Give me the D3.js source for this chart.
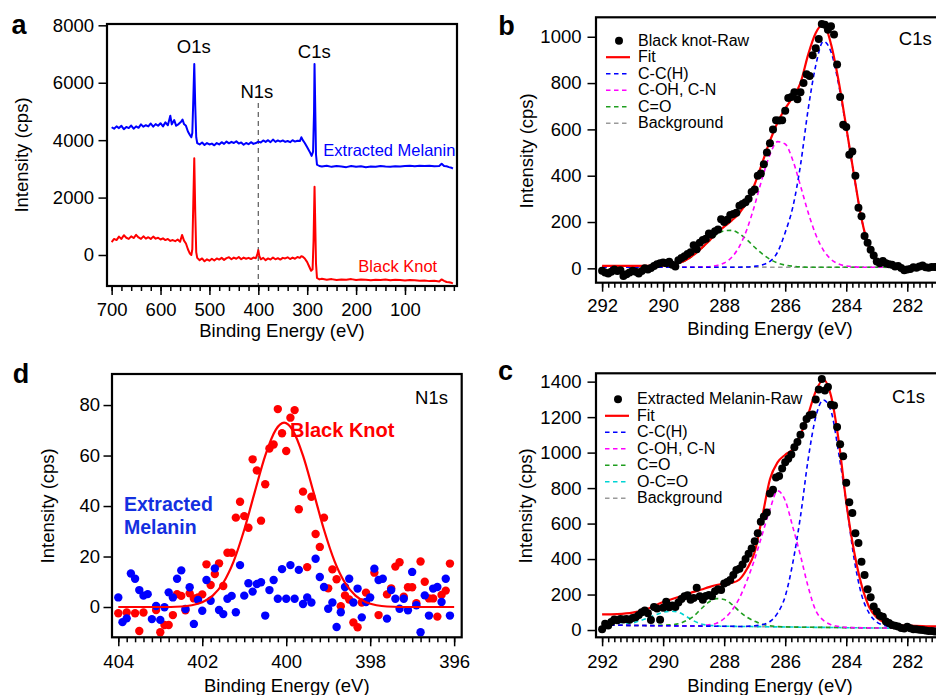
<!DOCTYPE html>
<html>
<head>
<meta charset="utf-8">
<script src="https://cdn.jsdelivr.net/npm/d3@7"></script>
<style>
body { margin: 0; background: #fff; }
svg { display: block; font-family: "Liberation Sans", Arial, Helvetica, sans-serif; }
.tick text { font-size: 18.5px; fill: #000; }
.tick line { stroke: #000; stroke-width: 1.5; }
</style>
</head>
<body>
<svg id="chart" width="936" height="695"></svg>
<script>
// ---- panel a : survey spectra ----
const melaninSurveyE = [700,695,690,685,680,675,670,665,660,655,650,645,640,635,630,625,620,615,610,605,600,595,590,585,580,
  577,572,568,563,558,555,552,548,544,540,537,535,533,531,529,527,525,
  520,515,510,505,500,495,490,485,480,475,470,465,460,455,450,445,440,435,430,425,420,415,410,405,400,395,390,385,380,375,370,365,360,355,350,345,340,335,330,325,320,315,
  312,309,305,300,295,291,288,286,285,284,282,280,275,270,
  260,250,240,230,220,210,200,190,180,170,160,150,140,130,120,110,100,90,80,70,60,50,40,30,
  25,20,15,10,5,2];
const melaninSurvey = [4450,4400,4480,4420,4500,4380,4460,4420,4510,4400,4480,4430,4550,4470,4520,4480,4580,4470,4560,4500,4590,4480,4620,4520,4850,
  4550,4700,4500,4560,4640,4720,4560,4500,4300,4180,4100,4250,5400,6650,5200,4100,3900,
  3850,3920,3830,3900,3850,3880,3820,3900,3850,3930,3870,3950,3890,3940,3900,3960,3880,3920,3840,3900,3860,3930,3870,3900,3950,3920,3990,3940,4000,3930,4020,3940,3990,3950,3990,3940,3970,3930,4000,3950,3980,3970,
  4100,4000,3900,3750,3600,3450,3600,5000,6650,5600,3500,3150,3100,3080,
  3110,3070,3100,3080,3060,3100,3070,3090,3060,3080,3070,3100,3080,3070,3090,3080,3100,3110,3090,3110,3100,3110,3090,3100,
  3180,3100,3090,3060,3040,3010];

const knotSurveyE = [700,695,690,685,680,675,670,665,660,655,650,645,640,635,630,625,620,615,610,605,600,595,590,585,580,575,570,565,560,
  556,552,548,544,540,537,535,533,531,529,527,525,
  520,515,510,505,500,495,490,485,480,475,470,465,460,455,450,445,440,435,430,425,420,415,410,405,
  402,400,398,
  395,390,385,380,375,370,365,360,355,350,345,340,335,330,325,320,315,
  312,309,305,300,296,292,289,287,285,284,282,280,275,270,
  260,250,240,230,220,210,200,190,180,170,160,150,140,130,120,110,100,90,80,70,60,50,40,30,
  25,20,15,10,5,2];
const knotSurvey = [450,560,520,640,560,690,600,560,650,590,700,610,560,650,570,620,560,640,570,600,540,580,520,560,490,520,480,540,460,
  700,500,400,200,50,0,200,1800,3370,1500,100,-100,
  -180,-120,-220,-150,-200,-130,-190,-120,-160,-100,-170,-110,-80,-150,-90,-130,-70,-150,-90,-130,-100,-140,-90,-110,
  20,170,-30,
  -150,-100,-180,-120,-160,-90,-150,-110,-160,-100,-120,-80,-140,-90,-130,-70,-100,
  -40,-60,-120,-250,-400,-550,-500,500,2380,1500,-300,-800,-850,-830,
  -860,-840,-870,-850,-860,-840,-870,-850,-860,-880,-860,-870,-850,-880,-860,-870,-890,-870,-880,-900,-890,-910,-900,-920,
  -850,-900,-940,-950,-970,-990];

const surveyXTicks = [700,600,500,400,300,200,100];
const surveyYTicks = [0,2000,4000,6000,8000];

// ---- panels b, c : C1s ----
const c1sRawE = [292.0,291.9,291.8,291.7,291.6,291.5,291.4,291.3,291.2,291.1,
  291.0,290.9,290.8,290.7,290.6,290.5,290.4,290.3,290.2,290.1,
  290.0,289.9,289.8,289.7,289.6,289.5,289.4,289.3,289.2,289.1,
  289.0,288.9,288.8,288.7,288.6,288.5,288.4,288.3,288.2,288.1,
  288.0,287.9,287.8,287.7,287.6,287.5,287.4,287.3,287.2,287.1,
  287.0,286.9,286.8,286.7,286.6,286.5,286.4,286.3,286.2,286.1,
  286.0,285.9,285.8,285.7,285.6,285.5,285.4,285.3,285.2,285.1,
  285.0,284.9,284.8,284.7,284.6,284.5,284.4,284.3,284.2,284.1,
  284.0,283.9,283.8,283.7,283.6,283.5,283.4,283.3,283.2,283.1,
  283.0,282.9,282.8,282.7,282.6,282.5,282.4,282.3,282.2,282.1,
  282.0,281.9,281.8,281.7,281.6,281.5,281.4,281.3,281.2,281.1,281.0];
const knotC1sRaw = [-10,-18,-22,-15,-5,-12,-8,-33,-25,-18,
  -10,-15,-22,-12,0,-5,2,10,18,22,
  25,22,28,15,8,35,45,52,62,70,
  100,82,110,122,128,150,145,160,168,212,
  200,210,230,235,240,270,278,285,300,330,
  340,400,410,450,500,540,600,640,638,640,
  680,735,740,760,730,760,800,838,830,920,
  950,990,1055,1052,1030,1045,1010,880,740,620,
  610,490,505,400,262,225,140,110,80,55,
  30,22,32,22,18,15,8,10,2,-8,
  -5,-3,5,3,8,12,5,3,6,6,4];
const melaninC1sRaw = [5,35,25,45,60,55,62,60,62,58,
  68,72,85,100,110,95,56,130,122,58,
  125,160,128,138,130,155,175,190,196,170,
  180,238,190,170,192,198,190,218,230,226,
  262,270,282,310,338,345,370,400,430,460,
  500,545,610,640,662,770,790,860,868,910,
  945,965,990,1030,1060,1100,1150,1190,1210,1215,
  1300,1355,1415,1350,1370,1270,1265,1145,1047,980,
  830,720,660,545,490,385,310,230,185,132,
  105,80,75,48,40,28,24,20,12,9,
  18,10,5,4,2,0,-3,-6,-5,-9,-8];

const c1sFitE = [292,291.5,291,290.5,290,289.75,289.5,289.25,289,288.75,288.5,288.25,288,287.75,287.5,287.25,287,286.75,286.5,286.25,
  286,285.75,285.5,285.25,285,284.75,284.5,284.25,284,283.75,283.5,283.25,283,282.75,282.5,282.25,282,281.5,281,280.6];

const knotFit   = [11,11,11,11,12,14,22,36,58,86,118,152,180,207,239,289,363,457,550,630,
  690,740,800,922,1016,1054,969,809,610,407,215,90,37,17,10,7,5,5,5,5];
const knotCCH   = [5,5,5,5,5,5,5,5,5,5,5,5,5,5,5,6,9,15,30,70,
  155,265,445,685,875,980,935,795,605,405,215,90,37,17,10,7,5,5,5,5];
const knotCOH   = [5,5,5,5,5,5,5,5,5,6,7,12,23,48,95,170,273,390,491,547,
  537,466,357,242,146,79,39,19,10,7,5,5,5,5,5,5,5,5,5,5];
const knotCO    = [5,5,5,5,8,12,21,35,57,85,116,145,162,164,149,123,91,62,39,23,
  14,9,6,5,5,5,5,5,5,5,5,5,5,5,5,5,5,5,5,5];
const knotBgE = [292, 280.6];
const knotBg  = [6, 4];

const melaninFit = [88,90,98,120,158,172,186,200,215,228,242,254,262,266,285,345,440,640,850,945,
  988,1020,1100,1215,1345,1412,1320,1070,720,450,255,130,70,42,30,27,25,22,20,20];
const melaninCCH = [28,27,26,25,24,24,23,23,23,22,22,21,21,21,20,21,24,30,48,95,
  190,380,640,960,1200,1297,1235,1000,720,410,200,95,45,25,17,13,11,10,9,8];
const melaninCOH = [28,27,26,25,24,24,23,23,23,25,30,38,65,110,180,280,400,540,680,785,
  730,580,420,245,110,55,30,20,15,13,12,12,11,11,10,10,10,9,8,8];
const melaninCO  = [28,27,26,25,28,30,35,52,78,120,158,177,172,145,105,72,50,32,24,20,
  18,17,16,16,15,15,14,14,13,13,12,12,11,11,10,10,10,9,8,8];
const melaninOCO = [28,30,40,68,100,106,100,78,52,34,27,24,21,21,20,20,19,19,18,18,
  17,17,16,16,15,15,14,14,13,13,12,12,11,11,10,10,10,9,8,8];
const melaninBgE = [292, 280.6];
const melaninBg  = [28, 8];

const c1sXTicks = [292,290,288,286,284,282];
const knotYTicks = [0,200,400,600,800,1000];
const melaninYTicks = [0,200,400,600,800,1000,1200,1400];

// ---- panel d : N1s ----
const n1sKnotE = [404.0,403.8,403.6,403.5,403.4,403.1,403.0,402.9,402.8,402.7,
  402.6,402.5,402.4,402.3,402.2,402.1,402.0,
  401.9,401.8,401.7,401.6,401.5,401.4,401.3,401.2,401.1,401.0,
  400.9,400.8,400.7,400.6,400.5,400.4,400.3,400.2,400.1,400.0,
  399.9,399.8,399.7,399.6,399.5,399.4,399.3,399.2,399.1,399.0,
  398.9,398.8,398.7,398.6,398.5,398.4,398.3,398.2,398.1,
  397.9,397.8,397.6,397.5,397.4,397.3,397.2,397.1,397.0,
  396.9,396.8,396.7,396.6,396.5,396.4,396.3,396.2,396.1];
const n1sKnot = [-2.5,-2.2,-2.5,-9.5,-2.2,-1.2,-10,-7.1,-7.1,-3.2,
  5.1,4.4,-1.3,5.4,3.4,3.8,5.0,
  16.9,8.7,13.1,17.3,8.3,21.5,21.5,35.4,41.7,36,
  31.4,58.5,54.1,34.2,48.6,62.8,64.4,78.4,68.8,61.8,
  75,78,38.7,45.7,15.8,43.7,28.9,23.8,35.4,7.4,
  14.9,11,0.3,4.6,3,-6.1,-8,1.8,5.7,
  13.6,-3.2,5.0,7.4,16,17.7,4.1,7.8,7.8,
  1.5,18,10,3.4,3.4,-3.8,4.8,6.5,17.2];
const n1sMelaninE = [404.0,403.9,403.8,403.7,403.6,403.5,403.4,403.3,403.2,403.1,
  403.0,402.9,402.8,402.7,402.6,402.5,402.4,402.3,402.2,402.1,
  402.0,401.9,401.8,401.7,401.6,401.5,401.4,401.3,401.2,401.1,
  401.0,400.9,400.8,400.7,400.6,400.5,400.4,400.3,400.2,400.1,
  400.0,399.9,399.8,399.7,399.6,399.5,399.4,399.3,399.2,399.1,
  399.0,398.9,398.8,398.7,398.6,398.5,398.4,398.3,398.2,398.1,
  398.0,397.9,397.8,397.7,397.6,397.5,397.4,397.3,397.2,397.1,
  397.0,396.9,396.8,396.7,396.6,396.5,396.4,396.3,396.2,396.1];
const n1sMelanin = [3.8,-6,-4.5,13.3,11.2,6.7,4.5,5.1,-4.8,0.4,
  -5.1,-0.1,5.8,3.8,11.2,14.5,-0.8,7.8,-6.7,2.8,
  -1.5,10.7,2.5,15.3,-1.2,-2.8,3.3,4.4,-2.1,16.6,
  4.5,9.4,6.1,9.1,9.8,-3.4,6.7,10.7,3.3,15,
  3.3,16.6,3.3,14.7,1.2,3.8,1.8,19.1,11.9,7.9,
  -0.7,1.8,-7.9,-2.1,7.9,11.2,1.8,7.3,-4.1,2,
  3.8,15.2,10.7,11.2,-4.6,6.7,3.3,-0.7,3.3,-1.3,
  13.9,0.7,-10,4.6,-3.4,7.3,7.9,2,11.2,-3.4];
const n1sFitE = [404,403,402.5,402.25,402,401.75,401.5,401.25,401,400.75,400.5,400.25,400.05,
  399.85,399.6,399.35,399.1,398.85,398.6,398.35,398.1,397.85,397.6,397,396];
const n1sFit  = [0,0,0.2,0.7,1.9,4.5,9.6,18.2,30.6,45.5,60,70.2,73,
  70.2,60,45.5,30.6,18.2,9.6,4.5,1.9,0.7,0.2,0,0];
const n1sXTicks = [404,402,400,398,396];
const n1sYTicks = [0,20,40,60,80];

// ---- colours ----
const RED = "#ff0000", BLUE = "#0000ff", MAGENTA = "#ff00ff", GREEN = "#1f9e1f", CYAN = "#00d4d4", GRAY = "#9a9a9a";

const svg = d3.select("#chart");
const zip = (xs, ys) => xs.map((x, i) => [x, ys[i]]);

function drawFrame(box) {
    svg.append("rect")
        .attr("x", box.x0).attr("y", box.y0)
        .attr("width", box.x1 - box.x0).attr("height", box.y1 - box.y0)
        .attr("fill", "none").attr("stroke", "#000").attr("stroke-width", 2.2);
}

function drawAxes(x, y, box, opt) {
    const gMinor = svg.append("g")
        .attr("transform", "translate(0," + box.y1 + ")")
        .call(d3.axisBottom(x).tickValues(opt.xMinor).tickSize(5).tickFormat(""));
    gMinor.select(".domain").remove();

    const gx = svg.append("g")
        .attr("transform", "translate(0," + box.y1 + ")")
        .call(d3.axisBottom(x).tickValues(opt.xTicks).tickSize(9).tickPadding(opt.xPad).tickFormat(d3.format("d")));
    gx.select(".domain").remove();

    const gy = svg.append("g")
        .attr("transform", "translate(" + box.x0 + ",0)")
        .call(d3.axisLeft(y).tickValues(opt.yTicks).tickSize(8.5).tickPadding(opt.yPad).tickFormat(d3.format("d")));
    gy.select(".domain").remove();
}

function addText(x, y, str, size, opts) {
    opts = opts || {};
    const t = svg.append("text")
        .attr("x", x).attr("y", y)
        .attr("font-size", size)
        .attr("fill", opts.fill || "#000")
        .attr("font-weight", opts.bold ? "bold" : "normal")
        .attr("text-anchor", opts.anchor || "start")
        .text(str);
    return t;
}

function yTitle(x, y, str) {
    svg.append("text")
        .attr("transform", "translate(" + x + "," + y + ") rotate(-90)")
        .attr("text-anchor", "middle")
        .attr("font-size", 18.5)
        .text(str);
}

function drawLine(data, x, y, color, width, dash, curve) {
    svg.append("path")
        .datum(data)
        .attr("fill", "none")
        .attr("stroke", color)
        .attr("stroke-width", width)
        .attr("stroke-linejoin", "round")
        .attr("stroke-dasharray", dash || null)
        .attr("d", d3.line().x(d => x(d[0])).y(d => y(d[1])).curve(curve || d3.curveLinear));
}

function drawDots(data, x, y, color, r) {
    svg.append("g").selectAll("circle")
        .data(data)
        .enter()
        .append("circle")
        .attr("cx", d => x(d[0]))
        .attr("cy", d => y(d[1]))
        .attr("r", r)
        .attr("fill", color);
}

function drawLegend(items, x0, yFirst, step) {
    items.forEach(function (it, i) {
        const yb = yFirst + i * step;
        if (it.type === "dot") {
            svg.append("circle").attr("cx", x0 + 13).attr("cy", yb - 5).attr("r", 4).attr("fill", it.color);
        } else {
            svg.append("line")
                .attr("x1", x0).attr("x2", x0 + 24)
                .attr("y1", yb - 5).attr("y2", yb - 5)
                .attr("stroke", it.color)
                .attr("stroke-width", it.type === "solid" ? 2.2 : 1.6)
                .attr("stroke-dasharray", it.type === "dash" ? "4.5,3.5" : null);
        }
        addText(x0 + 32, yb, it.label, 16);
    });
}

// =============== panel a ===============
const boxA = {x0: 107, y0: 24, x1: 457, y1: 286};
const xA = d3.scaleLinear().domain([709.5, -6.4]).range([boxA.x0, boxA.x1]);
const yA = d3.scaleLinear().domain([-1080, 8046]).range([boxA.y1, boxA.y0]);

drawAxes(xA, yA, boxA, {xTicks: surveyXTicks, xMinor: d3.range(0, 701, 20), yTicks: surveyYTicks, xPad: 7.4, yPad: 4.5});

// N1s marker
svg.append("line")
    .attr("x1", xA(400)).attr("x2", xA(400))
    .attr("y1", 103).attr("y2", boxA.y1)
    .attr("stroke", "#666").attr("stroke-width", 1.3).attr("stroke-dasharray", "5,4");

drawLine(zip(melaninSurveyE, melaninSurvey), xA, yA, BLUE, 2);
drawLine(zip(knotSurveyE, knotSurvey), xA, yA, RED, 2);
drawFrame(boxA);

addText(xA(532), 53.3, "O1s", 18.5, {anchor: "middle"});
addText(xA(285.5), 58.3, "C1s", 18.5, {anchor: "middle"});
addText(xA(403), 98.3, "N1s", 18.5, {anchor: "middle"});
addText(323.3, 156, "Extracted Melanin", 16.5, {fill: BLUE});
addText(358.3, 271.7, "Black Knot", 16.5, {fill: RED});
addText(282, 336.5, "Binding Energy (eV)", 18.5, {anchor: "middle"});
yTitle(28.3, 155, "Intensity (cps)");
addText(11.5, 34.3, "a", 27, {bold: true});

// =============== panel b ===============
const boxB = {x0: 596, y0: 17.3, x1: 950, y1: 282.7};
const xB = d3.scaleLinear().domain([292.2, 280.6]).range([boxB.x0, boxB.x1]);
const yB = d3.scaleLinear().domain([-62, 1084]).range([boxB.y1, boxB.y0]);
const c1sMinor = d3.range(2806, 2921, 2).map(v => v / 10);

drawAxes(xB, yB, boxB, {xTicks: c1sXTicks, xMinor: c1sMinor, yTicks: knotYTicks, xPad: 7.5, yPad: 6});

const smooth = d3.curveMonotoneX;
drawLine(zip(knotBgE, knotBg), xB, yB, GRAY, 1.6, "4.5,3.5");
drawLine(zip(c1sFitE, knotCO), xB, yB, GREEN, 1.6, "4.5,3.5", smooth);
drawLine(zip(c1sFitE, knotCOH), xB, yB, MAGENTA, 1.6, "4.5,3.5", smooth);
drawLine(zip(c1sFitE, knotCCH), xB, yB, BLUE, 1.6, "4.5,3.5", smooth);
drawLine(zip(c1sFitE, knotFit), xB, yB, RED, 2.2, null, smooth);
drawDots(zip(c1sRawE, knotC1sRaw), xB, yB, "#000", 4);
drawFrame(boxB);

drawLegend([
    {type: "dot", color: "#000", label: "Black knot-Raw"},
    {type: "solid", color: RED, label: "Fit"},
    {type: "dash", color: BLUE, label: "C-C(H)"},
    {type: "dash", color: MAGENTA, label: "C-OH, C-N"},
    {type: "dash", color: GREEN, label: "C=O"},
    {type: "dash", color: GRAY, label: "Background"}
], 606, 45.7, 16.5);

addText(931.7, 45, "C1s", 18.5, {anchor: "end"});
addText(770, 335, "Binding Energy (eV)", 18.5, {anchor: "middle"});
yTitle(532.7, 150.8, "Intensity (cps)");
addText(498.3, 35, "b", 27, {bold: true});

// =============== panel d ===============
const boxD = {x0: 112, y0: 374, x1: 461.7, y1: 637.3};
const xD = d3.scaleLinear().domain([404.15, 395.82]).range([boxD.x0, boxD.x1]);
const yD = d3.scaleLinear().domain([-12, 92.3]).range([boxD.y1, boxD.y0]);

drawAxes(xD, yD, boxD, {xTicks: n1sXTicks, xMinor: d3.range(3960, 4041, 2).map(v => v / 10), yTicks: n1sYTicks, xPad: 8.8, yPad: 3.5});

drawDots(zip(n1sKnotE, n1sKnot), xD, yD, RED, 4.2);
drawDots(zip(n1sMelaninE, n1sMelanin), xD, yD, BLUE, 4.2);
drawLine(zip(n1sFitE, n1sFit), xD, yD, RED, 2.2, null, smooth);
drawFrame(boxD);

addText(448, 404, "N1s", 18.5, {anchor: "end"});
addText(290, 437, "Black Knot", 20, {fill: RED, bold: true});
addText(124, 510.7, "Extracted", 19.5, {fill: "#1430e0", bold: true});
addText(124, 534, "Melanin", 19.5, {fill: "#1430e0", bold: true});
addText(286.8, 691.5, "Binding Energy (eV)", 18.5, {anchor: "middle"});
yTitle(54.3, 505.8, "Intensity (cps)");
addText(12.7, 383, "d", 27, {bold: true});

// =============== panel c ===============
const boxC = {x0: 596, y0: 373.3, x1: 950, y1: 637.3};
const xC = d3.scaleLinear().domain([292.2, 280.6]).range([boxC.x0, boxC.x1]);
const yC = d3.scaleLinear().domain([-41, 1447]).range([boxC.y1, boxC.y0]);

drawAxes(xC, yC, boxC, {xTicks: c1sXTicks, xMinor: c1sMinor, yTicks: melaninYTicks, xPad: 8.8, yPad: 6});

drawLine(zip(melaninBgE, melaninBg), xC, yC, GRAY, 1.6, "4.5,3.5");
drawLine(zip(c1sFitE, melaninOCO), xC, yC, CYAN, 1.6, "4.5,3.5", smooth);
drawLine(zip(c1sFitE, melaninCO), xC, yC, GREEN, 1.6, "4.5,3.5", smooth);
drawLine(zip(c1sFitE, melaninCOH), xC, yC, MAGENTA, 1.6, "4.5,3.5", smooth);
drawLine(zip(c1sFitE, melaninCCH), xC, yC, BLUE, 1.6, "4.5,3.5", smooth);
drawLine(zip(c1sFitE, melaninFit), xC, yC, RED, 2.2, null, smooth);
drawDots(zip(c1sRawE, melaninC1sRaw), xC, yC, "#000", 4);
drawFrame(boxC);

drawLegend([
    {type: "dot", color: "#000", label: "Extracted Melanin-Raw"},
    {type: "solid", color: RED, label: "Fit"},
    {type: "dash", color: BLUE, label: "C-C(H)"},
    {type: "dash", color: MAGENTA, label: "C-OH, C-N"},
    {type: "dash", color: GREEN, label: "C=O"},
    {type: "dash", color: CYAN, label: "O-C=O"},
    {type: "dash", color: GRAY, label: "Background"}
], 605, 404.3, 16.5);

addText(925, 402.7, "C1s", 18.5, {anchor: "end"});
addText(770, 691.5, "Binding Energy (eV)", 18.5, {anchor: "middle"});
yTitle(532, 505.8, "Intensity (cps)");
addText(498, 380, "c", 27, {bold: true});
</script>
</body>
</html>
